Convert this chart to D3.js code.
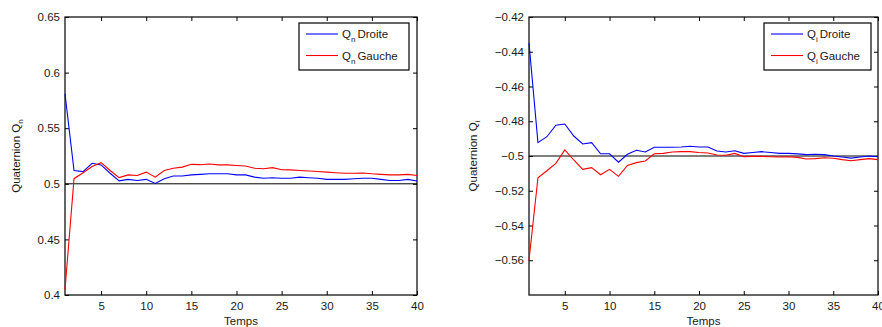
<!DOCTYPE html>
<html><head><meta charset="utf-8">
<script src="https://cdn.jsdelivr.net/npm/d3@7"></script>
<style>
body{margin:0;background:#fff;}
svg{display:block;font-family:"Liberation Sans",Arial,Helvetica,sans-serif;}
</style></head>
<body>
<svg id="chart" width="882" height="327"></svg>
<script>
// ---- data ----
const temps = d3.range(1, 41);
const qnDroite = [0.581,0.512,0.511,0.5185,0.517,0.5095,0.5026,0.504,0.503,0.504,
  0.5003,0.5045,0.507,0.507,0.508,0.5085,0.509,0.509,0.509,0.508,
  0.508,0.506,0.505,0.5055,0.505,0.505,0.506,0.5055,0.505,0.504,
  0.504,0.504,0.5045,0.505,0.505,0.504,0.503,0.503,0.504,0.5025];
const qnGauche = [0.405,0.5046,0.51,0.5155,0.519,0.512,0.5056,0.508,0.5075,0.5105,
  0.506,0.512,0.514,0.515,0.5175,0.5172,0.5178,0.517,0.517,0.5165,
  0.516,0.514,0.5135,0.5145,0.5127,0.5125,0.512,0.5115,0.511,0.5105,
  0.51,0.5095,0.5095,0.5097,0.509,0.5085,0.508,0.508,0.5085,0.5075];
const qiDroite = [-0.435,-0.4923,-0.4889,-0.4823,-0.4816,-0.4885,-0.4931,-0.4923,-0.4987,-0.4987,
  -0.5036,-0.499,-0.4967,-0.4977,-0.495,-0.495,-0.495,-0.4948,-0.4944,-0.4948,
  -0.4948,-0.4971,-0.4977,-0.497,-0.4985,-0.498,-0.4975,-0.498,-0.4985,-0.4985,
  -0.4988,-0.4992,-0.499,-0.4992,-0.5,-0.5006,-0.5012,-0.5006,-0.5,-0.5004];
const qiGauche = [-0.56,-0.5125,-0.5085,-0.5042,-0.4965,-0.5023,-0.5077,-0.5067,-0.5108,-0.5077,
  -0.5117,-0.5054,-0.5038,-0.5029,-0.4987,-0.4985,-0.4977,-0.4975,-0.4975,-0.498,
  -0.4983,-0.4994,-0.4996,-0.4985,-0.5004,-0.5002,-0.5002,-0.5004,-0.5006,-0.5004,
  -0.5008,-0.5017,-0.5015,-0.501,-0.5013,-0.5021,-0.5027,-0.5021,-0.5015,-0.5021];
const xTicks = [5,10,15,20,25,30,35,40];
const yTicksLeft = [0.4,0.45,0.5,0.55,0.6,0.65];
const yTicksRight = [-0.56,-0.54,-0.52,-0.5,-0.48,-0.46,-0.44,-0.42];
const refLeft = 0.5, refRight = -0.5;

const svg = d3.select("#chart");

function panel(opt){
  const {x0,x1,y0,y1,ydom,yTicks,fmt,droite,gauche,ref,sub,leg,labelX} = opt;
  const x = d3.scaleLinear().domain([1,40]).range([x0,x1]);
  const y = d3.scaleLinear().domain(ydom).range([y1,y0]);
  const g = svg.append("g");
  const tl = 4;
  // frame
  g.append("rect").attr("x",x0).attr("y",y0).attr("width",x1-x0).attr("height",y1-y0)
    .attr("fill","none").attr("stroke","#000").attr("stroke-width",1.2);
  // x ticks
  const axB = d3.axisBottom(x).tickValues(xTicks).tickSize(-tl).tickPadding(6).tickFormat(d3.format("d"));
  const gb = g.append("g").attr("transform",`translate(0,${y1})`).call(axB);
  const axT = d3.axisTop(x).tickValues(xTicks).tickSize(-tl).tickFormat("");
  const gt = g.append("g").attr("transform",`translate(0,${y0})`).call(axT);
  const axL = d3.axisLeft(y).tickValues(yTicks).tickSize(-tl).tickPadding(5).tickFormat(fmt);
  const gl = g.append("g").attr("transform",`translate(${x0},0)`).call(axL);
  const axR = d3.axisRight(y).tickValues(yTicks).tickSize(-tl).tickFormat("");
  const gr = g.append("g").attr("transform",`translate(${x1},0)`).call(axR);
  [gb,gt,gl,gr].forEach(a=>{
    a.select(".domain").remove();
    a.selectAll(".tick line").attr("stroke","#000");
    a.selectAll("text").attr("font-size",11.5).attr("fill","#1a1a1a")
      .attr("font-family","'Liberation Sans',Arial,sans-serif");
  });
  gb.selectAll(".tick text").attr("dy","0.75em");
  // ref line
  g.append("line").attr("x1",x0).attr("x2",x1).attr("y1",y(ref)).attr("y2",y(ref))
    .attr("stroke","#000").attr("stroke-width",1);
  const line = d3.line().x((d,i)=>x(temps[i])).y(d=>y(d));
  g.append("path").datum(droite).attr("d",line).attr("fill","none").attr("stroke","#0000ff").attr("stroke-width",1.1);
  g.append("path").datum(gauche).attr("d",line).attr("fill","none").attr("stroke","#ff0000").attr("stroke-width",1.1);
  // axis labels
  g.append("text").attr("x",(x0+x1)/2).attr("y",325).attr("text-anchor","middle")
    .attr("font-size",11.5).attr("fill","#1a1a1a").text("Temps");
  const yl = g.append("text").attr("transform",`translate(${labelX},${(y0+y1)/2}) rotate(-90)`)
    .attr("text-anchor","middle").attr("font-size",11.5).attr("fill","#1a1a1a");
  yl.append("tspan").text("Quaternion Q");
  yl.append("tspan").attr("font-size",8).attr("dy",3).text(sub);
  // legend
  const [lx0,lx1,ly0,ly1] = leg;
  g.append("rect").attr("x",lx0).attr("y",ly0).attr("width",lx1-lx0).attr("height",ly1-ly0)
    .attr("fill","#fff").attr("stroke","#000").attr("stroke-width",1.2);
  const entries = [{c:"#0000ff",t:"Droite",yy:34},{c:"#ff0000",t:"Gauche",yy:55.5}];
  entries.forEach(e=>{
    g.append("line").attr("x1",lx0+7).attr("x2",lx0+39).attr("y1",e.yy).attr("y2",e.yy)
      .attr("stroke",e.c).attr("stroke-width",1.1);
    const t = g.append("text").attr("x",lx0+43).attr("y",e.yy+4).attr("font-size",11.5).attr("fill","#1a1a1a");
    t.append("tspan").text("Q");
    t.append("tspan").attr("font-size",8).attr("dy",4).text(sub);
    t.append("tspan").attr("dy",-4).attr("dx",2).text(e.t);
  });
}

const minus = s => s.replace("-","\u2212");
panel({x0:65,x1:417,y0:17,y1:295,ydom:[0.4,0.65],yTicks:yTicksLeft,
  fmt:d=>d3.format("")(d),droite:qnDroite,gauche:qnGauche,ref:refLeft,sub:"n",
  leg:[299,409,23,70],labelX:20});
panel({x0:529,x1:878,y0:17,y1:295,ydom:[-0.58,-0.42],yTicks:yTicksRight,
  fmt:d=>minus(d3.format("")(d)),droite:qiDroite,gauche:qiGauche,ref:refRight,sub:"i",
  leg:[764,871,23,70],labelX:477});
</script>
</body></html>
